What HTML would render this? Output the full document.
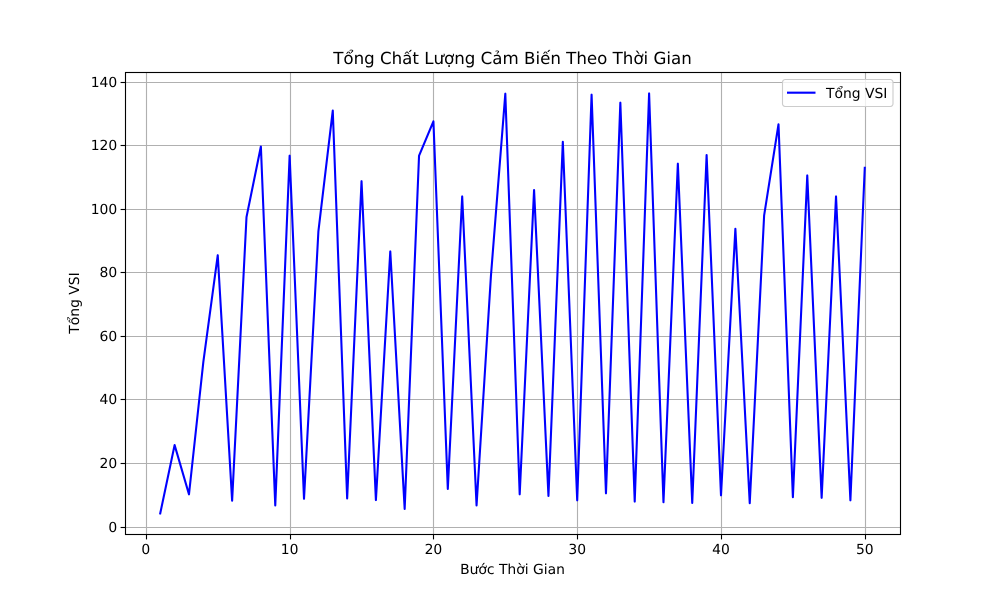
<!DOCTYPE html>
<html lang="vi">
<head>
<meta charset="utf-8">
<title>Tổng Chất Lượng Cảm Biến Theo Thời Gian</title>
<style>
html,body{margin:0;padding:0;background:#fff;}
svg{display:block;}
text{font-family:"DejaVu Sans","Liberation Sans",sans-serif;fill:#000;text-rendering:geometricPrecision;}
</style>
</head>
<body>
<svg id="chart" xmlns="http://www.w3.org/2000/svg" width="1000" height="600" viewBox="0 0 1000 600">
  <rect x="0" y="0" width="1000" height="600" fill="#fff"/>
  <rect x="125" y="72" width="775" height="462" fill="#fff"/>
  <g id="grid"></g>
  <clipPath id="plot-clip"><rect x="125" y="72" width="775" height="462"/></clipPath>
  <g clip-path="url(#plot-clip)">
    <polyline id="series" transform="translate(0 0.4)" fill="none" stroke="#0000ff" stroke-width="2.08" stroke-linejoin="round" stroke-linecap="square"/>
  </g>
  <g id="ticks"></g>
  <rect x="125.5" y="72.5" width="775" height="462" fill="none" stroke="#000" stroke-width="1.11"/>
  <text x="512.5" y="64" font-size="16.67" text-anchor="middle">Tổng Chất Lượng Cảm Biến Theo Thời Gian</text>
  <text x="512.5" y="574" font-size="13.89" text-anchor="middle">Bước Thời Gian</text>
  <text x="0" y="0" font-size="13.89" text-anchor="middle" transform="translate(79 303) rotate(-90)">Tổng VSI</text>
  <g>
    <rect x="782.5" y="79.5" width="110.5" height="27" rx="2.8" ry="2.8" fill="#fff" fill-opacity="0.8" stroke="#cccccc" stroke-width="1.11"/>
    <line x1="787" y1="92.7" x2="815.5" y2="92.7" stroke="#0000ff" stroke-width="2.08"/>
    <text x="826" y="98" font-size="13.89">Tổng VSI</text>
  </g>
</svg>
<script>
const xTickLabels = [0, 10, 20, 30, 40, 50];
const yTickLabels = [0, 20, 40, 60, 80, 100, 120, 140];
const steps = [1,2,3,4,5,6,7,8,9,10,11,12,13,14,15,16,17,18,19,20,21,22,23,24,25,26,27,28,29,30,31,32,33,34,35,36,37,38,39,40,41,42,43,44,45,46,47,48,49,50];
const tongVsi = [4.3,25.8,10.3,52,85.5,8.3,97.5,119.7,6.8,116.8,8.9,93,131,9,108.8,8.5,86.7,5.7,116.8,127.6,12,104,6.8,79,136.3,10.3,106,9.8,121.2,8.4,136,10.6,133.5,8,136.4,7.8,114.3,7.6,117,10,93.8,7.5,98,126.7,9.4,110.6,9.2,104,8.4,113];

const SVG_NS = 'http://www.w3.org/2000/svg';
const plot = { left: 125, right: 900, top: 72, bottom: 534 };

function extent(values) {
  const lo = Math.min(...values);
  const hi = Math.max(...values);
  const pad = (hi - lo) * 0.05;
  return [lo - pad, hi + pad];
}
const xDomain = extent(steps);
const yDomain = extent(tongVsi);

function xScale(v) {
  return plot.left + (v - xDomain[0]) / (xDomain[1] - xDomain[0]) * (plot.right - plot.left);
}
function yScale(v) {
  return plot.bottom - (v - yDomain[0]) / (yDomain[1] - yDomain[0]) * (plot.bottom - plot.top);
}
function snap(p) {
  return Math.round(p) + 0.5;
}
function makeLine(x1, y1, x2, y2, color) {
  const el = document.createElementNS(SVG_NS, 'line');
  el.setAttribute('x1', x1);
  el.setAttribute('y1', y1);
  el.setAttribute('x2', x2);
  el.setAttribute('y2', y2);
  el.setAttribute('stroke', color);
  el.setAttribute('stroke-width', '1.11');
  return el;
}
function makeLabel(x, y, anchor, content) {
  const el = document.createElementNS(SVG_NS, 'text');
  el.setAttribute('x', x);
  el.setAttribute('y', y);
  el.setAttribute('font-size', '13.89');
  el.setAttribute('text-anchor', anchor);
  el.textContent = content;
  return el;
}

const gridGroup = document.getElementById('grid');
const tickGroup = document.getElementById('ticks');

xTickLabels.forEach(function (value) {
  const x = snap(xScale(value));
  const gridLine = makeLine(x, plot.top, x, plot.bottom, '#b0b0b0');
  
  
  gridGroup.appendChild(gridLine);
  const tick = makeLine(x, plot.bottom + 0.5, x, plot.bottom + 5.4, '#000');
  
  
  tickGroup.appendChild(tick);
  const label = makeLabel(xScale(value), plot.bottom + 20, 'middle', String(value));
  
  
  tickGroup.appendChild(label);
});

yTickLabels.forEach(function (value) {
  const y = snap(yScale(value));
  const gridLine = makeLine(plot.left, y, plot.right, y, '#b0b0b0');
  
  
  gridGroup.appendChild(gridLine);
  const tick = makeLine(plot.left - 4.4, y, plot.left + 0.5, y, '#000');
  
  
  tickGroup.appendChild(tick);
  const label = makeLabel(plot.left - 7.8, y + 4.6, 'end', String(value));
  
  
  tickGroup.appendChild(label);
});

const points = steps.map(function (step, i) {
  return xScale(step).toFixed(2) + ',' + yScale(tongVsi[i]).toFixed(2);
});
document.getElementById('series').setAttribute('points', points.join(' '));
</script>
</body>
</html>
